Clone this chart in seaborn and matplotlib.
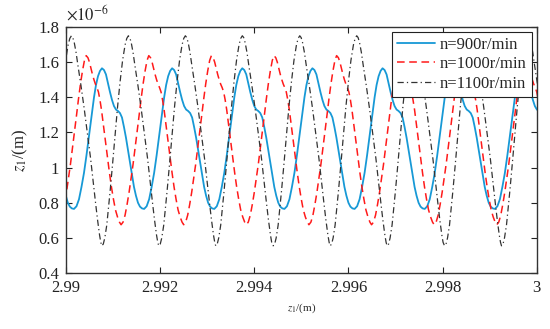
import matplotlib
matplotlib.use("Agg")
import matplotlib.pyplot as plt
import seaborn as sns
import pandas as pd
from matplotlib.ticker import FuncFormatter

# ------------------------------
# Data (z values in units of 1e-6 m)
# each curve: start of every cycle (minimum) + shape of one cycle
# shape offsets are in units of 1e-5 m after the cycle start
# ------------------------------
blue_cycle_x = [2.98868, 2.99017, 2.99166, 2.99315, 2.99464, 2.99613, 2.99762, 2.99911]
blue_shape_dx = [0, 5.3, 10.6, 15.9, 21.2, 26.5, 31.8, 37.2, 42.5, 46.7, 51.0, 55.2,
                 59.4, 63.7, 67.9, 72.2, 76.4, 80.7, 84.9, 89.2, 93.4, 97.7, 101.9,
                 106.2, 110.4, 114.6, 118.9, 123.1, 127.4, 131.6, 135.9, 140.1, 144.4]
blue_shape_y = [0.765, 0.78, 0.82, 0.89, 0.97, 1.07, 1.18, 1.29, 1.40, 1.47, 1.52,
                1.55, 1.565, 1.555, 1.53, 1.48, 1.43, 1.385, 1.35, 1.33, 1.322, 1.31,
                1.285, 1.23, 1.17, 1.10, 1.03, 0.955, 0.89, 0.84, 0.80, 0.778, 0.768]

red_cycle_x = [2.98984, 2.99117, 2.99250, 2.99383, 2.99516, 2.99649, 2.99782, 2.99915]
red_shape_dx = [0, 4.2, 8.5, 12.7, 17.0, 21.2, 25.5, 29.7, 34.0, 38.2, 42.5, 46.7,
                51.0, 55.2, 58.8, 62.6, 65.8, 69.0, 72.2, 75.4, 78.5, 81.7, 84.9,
                88.1, 91.3, 95.5, 99.8, 104.0, 108.3, 112.5, 116.8, 121.0, 125.3, 129.5]
red_shape_y = [0.675, 0.69, 0.73, 0.79, 0.86, 0.94, 1.02, 1.11, 1.20, 1.295, 1.39,
               1.475, 1.55, 1.61, 1.637, 1.625, 1.60, 1.565, 1.53, 1.50, 1.475, 1.455,
               1.43, 1.385, 1.33, 1.24, 1.15, 1.06, 0.97, 0.89, 0.82, 0.76, 0.72, 0.69]

black_cycle_x = [2.98955, 2.99076, 2.99197, 2.99318, 2.99440, 2.99561, 2.99682,
                 2.99804, 2.99925]
black_shape_dx = [0, 3.2, 6.4, 10.6, 17.6, 22.9, 28.2, 33.5, 38.9, 44.2, 49.5, 53.1,
                  56.5, 59.4, 62.6, 66.4, 70.2, 76.9, 83.6, 90.4, 97.2, 102.3, 107.5,
                  111.9, 116.3, 118.9]
black_shape_y = [0.555, 0.565, 0.60, 0.673, 0.863, 1.02, 1.185, 1.345, 1.489, 1.61,
                 1.698, 1.735, 1.75, 1.74, 1.71, 1.655, 1.584, 1.465, 1.337, 1.195,
                 1.053, 0.93, 0.806, 0.705, 0.616, 0.575]

labels = ["n=900r/min", "n=1000r/min", "n=1100r/min"]
x_ticks = [2.99, 2.992, 2.994, 2.996, 2.998, 3.0]
y_ticks = [0.4, 0.6, 0.8, 1.0, 1.2, 1.4, 1.6, 1.8]


def build_curve(cycle_x, shape_dx, shape_y):
    xs, ys = [], []
    for x0 in cycle_x:
        for dx, y in zip(shape_dx, shape_y):
            xs.append(x0 + dx * 1e-5)
            ys.append(y)
    return pd.DataFrame({"x": xs, "z": ys})


blue = build_curve(blue_cycle_x, blue_shape_dx, blue_shape_y)
red = build_curve(red_cycle_x, red_shape_dx, red_shape_y)
black = build_curve(black_cycle_x, black_shape_dx, black_shape_y)

# ------------------------------
# Plot
# ------------------------------
sns.set_theme(style="ticks")
plt.rcParams["font.family"] = ["Liberation Serif", "DejaVu Serif"]
plt.rcParams["mathtext.fontset"] = "stix"

fig = plt.figure(figsize=(5.5, 3.29), dpi=100)
ax = fig.add_axes([0.12, 0.170, 0.856, 0.748])

sns.lineplot(data=blue, x="x", y="z", ax=ax, color="#1799d6", lw=1.3,
             sort=False, estimator=None, label=labels[0])
sns.lineplot(data=red, x="x", y="z", ax=ax, color="#ff1a1a", lw=1.1,
             sort=False, estimator=None, label=labels[1])
sns.lineplot(data=black, x="x", y="z", ax=ax, color="#333333", lw=0.9,
             sort=False, estimator=None, label=labels[2])
ax.lines[1].set_dashes((5, 3))
ax.lines[2].set_dashes((5, 2.5, 1, 2.5))

ax.set_xlim(2.99, 3.0)
ax.set_ylim(0.4, 1.8)
ax.set_xticks(x_ticks)
ax.set_yticks(y_ticks)
fmt = FuncFormatter(lambda v, p: "%g" % v)
ax.xaxis.set_major_formatter(fmt)
ax.yaxis.set_major_formatter(fmt)
ax.tick_params(direction="in", length=4, width=0.8, top=True, right=True,
               labelsize=12, colors="#222222", pad=5)
for s in ax.spines.values():
    s.set_color("#333333")
    s.set_linewidth(1.0)

ax.set_xlabel(r"$z_1$/(m)", fontsize=8, labelpad=4)
ax.set_ylabel(r"$z_1$/(m)", fontsize=12, labelpad=6)
ax.text(0.0, 1.012, r"$\times10^{-6}$", transform=ax.transAxes, fontsize=12,
        ha="left", va="bottom")

leg = ax.legend(loc="upper right", fontsize=12, frameon=True, fancybox=False,
                edgecolor="#222222", framealpha=1, handlelength=2.3,
                labelspacing=0.2, borderaxespad=0.3, borderpad=0.3,
                handletextpad=0.3)
leg.get_frame().set_linewidth(0.8)
for h, ls in zip(leg.get_lines(), [None, (5, 3), (5, 2.5, 1, 2.5)]):
    if ls is not None:
        h.set_dashes(ls)

fig.savefig("out.png", dpi=100)
plt.close(fig)
